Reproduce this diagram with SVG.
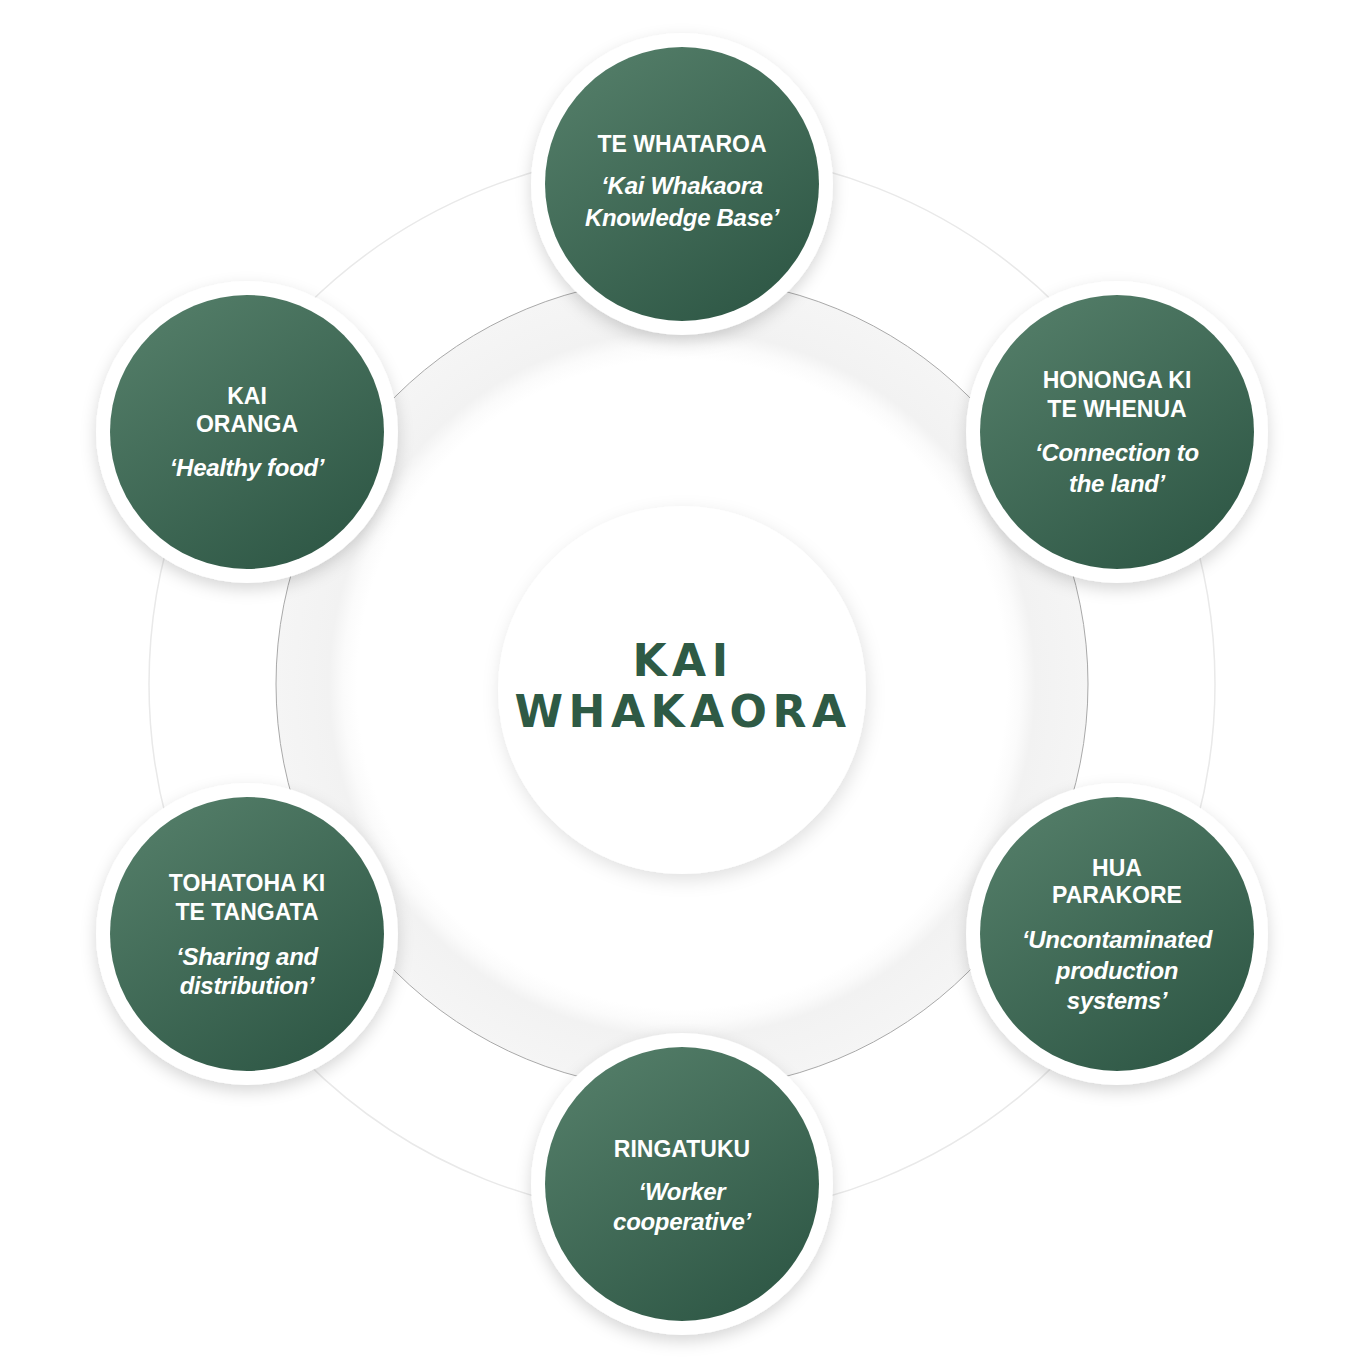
<svg xmlns="http://www.w3.org/2000/svg" width="1367" height="1367" viewBox="0 0 1367 1367">
<style>
  .t { font-family: "Liberation Sans", Arial, sans-serif; font-weight: 700; font-size: 23px; fill: #ffffff; text-anchor: middle; }
  .s { font-family: "Liberation Sans", Arial, sans-serif; font-weight: 700; font-style: italic; font-size: 24px; fill: #ffffff; text-anchor: middle; letter-spacing: -0.3px; }
  .c { font-family: "DejaVu Sans", "Liberation Sans", sans-serif; font-weight: 700; font-size: 44px; fill: #2e5a45; text-anchor: middle; letter-spacing: 5.5px; }
  .rim { fill: #ffffff; filter: url(#sh); }
  .disc { fill: url(#g); }
</style>
<defs>
  <linearGradient id="g" x1="0.2" y1="0.05" x2="0.8" y2="0.95">
    <stop offset="0" stop-color="#527c67"/>
    <stop offset="1" stop-color="#2f5846"/>
  </linearGradient>
  <radialGradient id="band" gradientUnits="userSpaceOnUse" cx="682" cy="684" r="406">
    <stop offset="0.80" stop-color="#ffffff"/>
    <stop offset="0.835" stop-color="#fbfbfb"/>
    <stop offset="0.87" stop-color="#f2f2f2"/>
    <stop offset="1" stop-color="#f5f5f5"/>
  </radialGradient>
  <filter id="sh" x="-25%" y="-25%" width="150%" height="155%">
    <feDropShadow dx="0" dy="6" stdDeviation="8" flood-color="#000000" flood-opacity="0.16"/>
  </filter>
  <filter id="shc" x="-25%" y="-25%" width="150%" height="155%">
    <feDropShadow dx="2" dy="6" stdDeviation="9" flood-color="#000000" flood-opacity="0.12"/>
  </filter>
</defs>
<rect x="0" y="0" width="1367" height="1367" fill="#ffffff"/>

<g id="connectors">
  <circle cx="682" cy="684" r="533" fill="none" stroke="#e9e9e9" stroke-width="1.5"/>
  <circle cx="682" cy="684" r="406" fill="url(#band)" stroke="#a9a9a9" stroke-width="1"/>
</g>

<g id="center">
  <circle cx="682" cy="690" r="184" fill="#ffffff" filter="url(#shc)"/>
  <text class="c" x="683" y="676">KAI</text>
  <text class="c" x="683" y="727">WHAKAORA</text>
</g>

<g id="te-whataroa">
  <circle class="rim" cx="682" cy="184" r="151"/>
  <circle class="disc" cx="682" cy="184" r="137"/>
  <text class="t" x="682" y="152">TE WHATAROA</text>
  <text class="s"><tspan x="682" y="194">‘Kai Whakaora</tspan><tspan x="682" y="226">Knowledge Base’</tspan></text>
</g>

<g id="hononga">
  <circle class="rim" cx="1117" cy="432" r="151"/>
  <circle class="disc" cx="1117" cy="432" r="137"/>
  <text class="t"><tspan x="1117" y="388">HONONGA KI</tspan><tspan x="1117" y="417">TE WHENUA</tspan></text>
  <text class="s"><tspan x="1117" y="461">‘Connection to</tspan><tspan x="1117" y="492">the land’</tspan></text>
</g>

<g id="hua-parakore">
  <circle class="rim" cx="1117" cy="934" r="151"/>
  <circle class="disc" cx="1117" cy="934" r="137"/>
  <text class="t"><tspan x="1117" y="876">HUA</tspan><tspan x="1117" y="903">PARAKORE</tspan></text>
  <text class="s"><tspan x="1117" y="948">‘Uncontaminated</tspan><tspan x="1117" y="979">production</tspan><tspan x="1117" y="1009">systems’</tspan></text>
</g>

<g id="ringatuku">
  <circle class="rim" cx="682" cy="1184" r="151"/>
  <circle class="disc" cx="682" cy="1184" r="137"/>
  <text class="t" x="682" y="1157">RINGATUKU</text>
  <text class="s"><tspan x="682" y="1200">‘Worker</tspan><tspan x="682" y="1230">cooperative’</tspan></text>
</g>

<g id="tohatoha">
  <circle class="rim" cx="247" cy="934" r="151"/>
  <circle class="disc" cx="247" cy="934" r="137"/>
  <text class="t"><tspan x="247" y="891">TOHATOHA KI</tspan><tspan x="247" y="920">TE TANGATA</tspan></text>
  <text class="s"><tspan x="247" y="965">‘Sharing and</tspan><tspan x="247" y="994">distribution’</tspan></text>
</g>

<g id="kai-oranga">
  <circle class="rim" cx="247" cy="432" r="151"/>
  <circle class="disc" cx="247" cy="432" r="137"/>
  <text class="t"><tspan x="247" y="404">KAI</tspan><tspan x="247" y="432">ORANGA</tspan></text>
  <text class="s" x="247" y="476">‘Healthy food’</text>
</g>
</svg>
